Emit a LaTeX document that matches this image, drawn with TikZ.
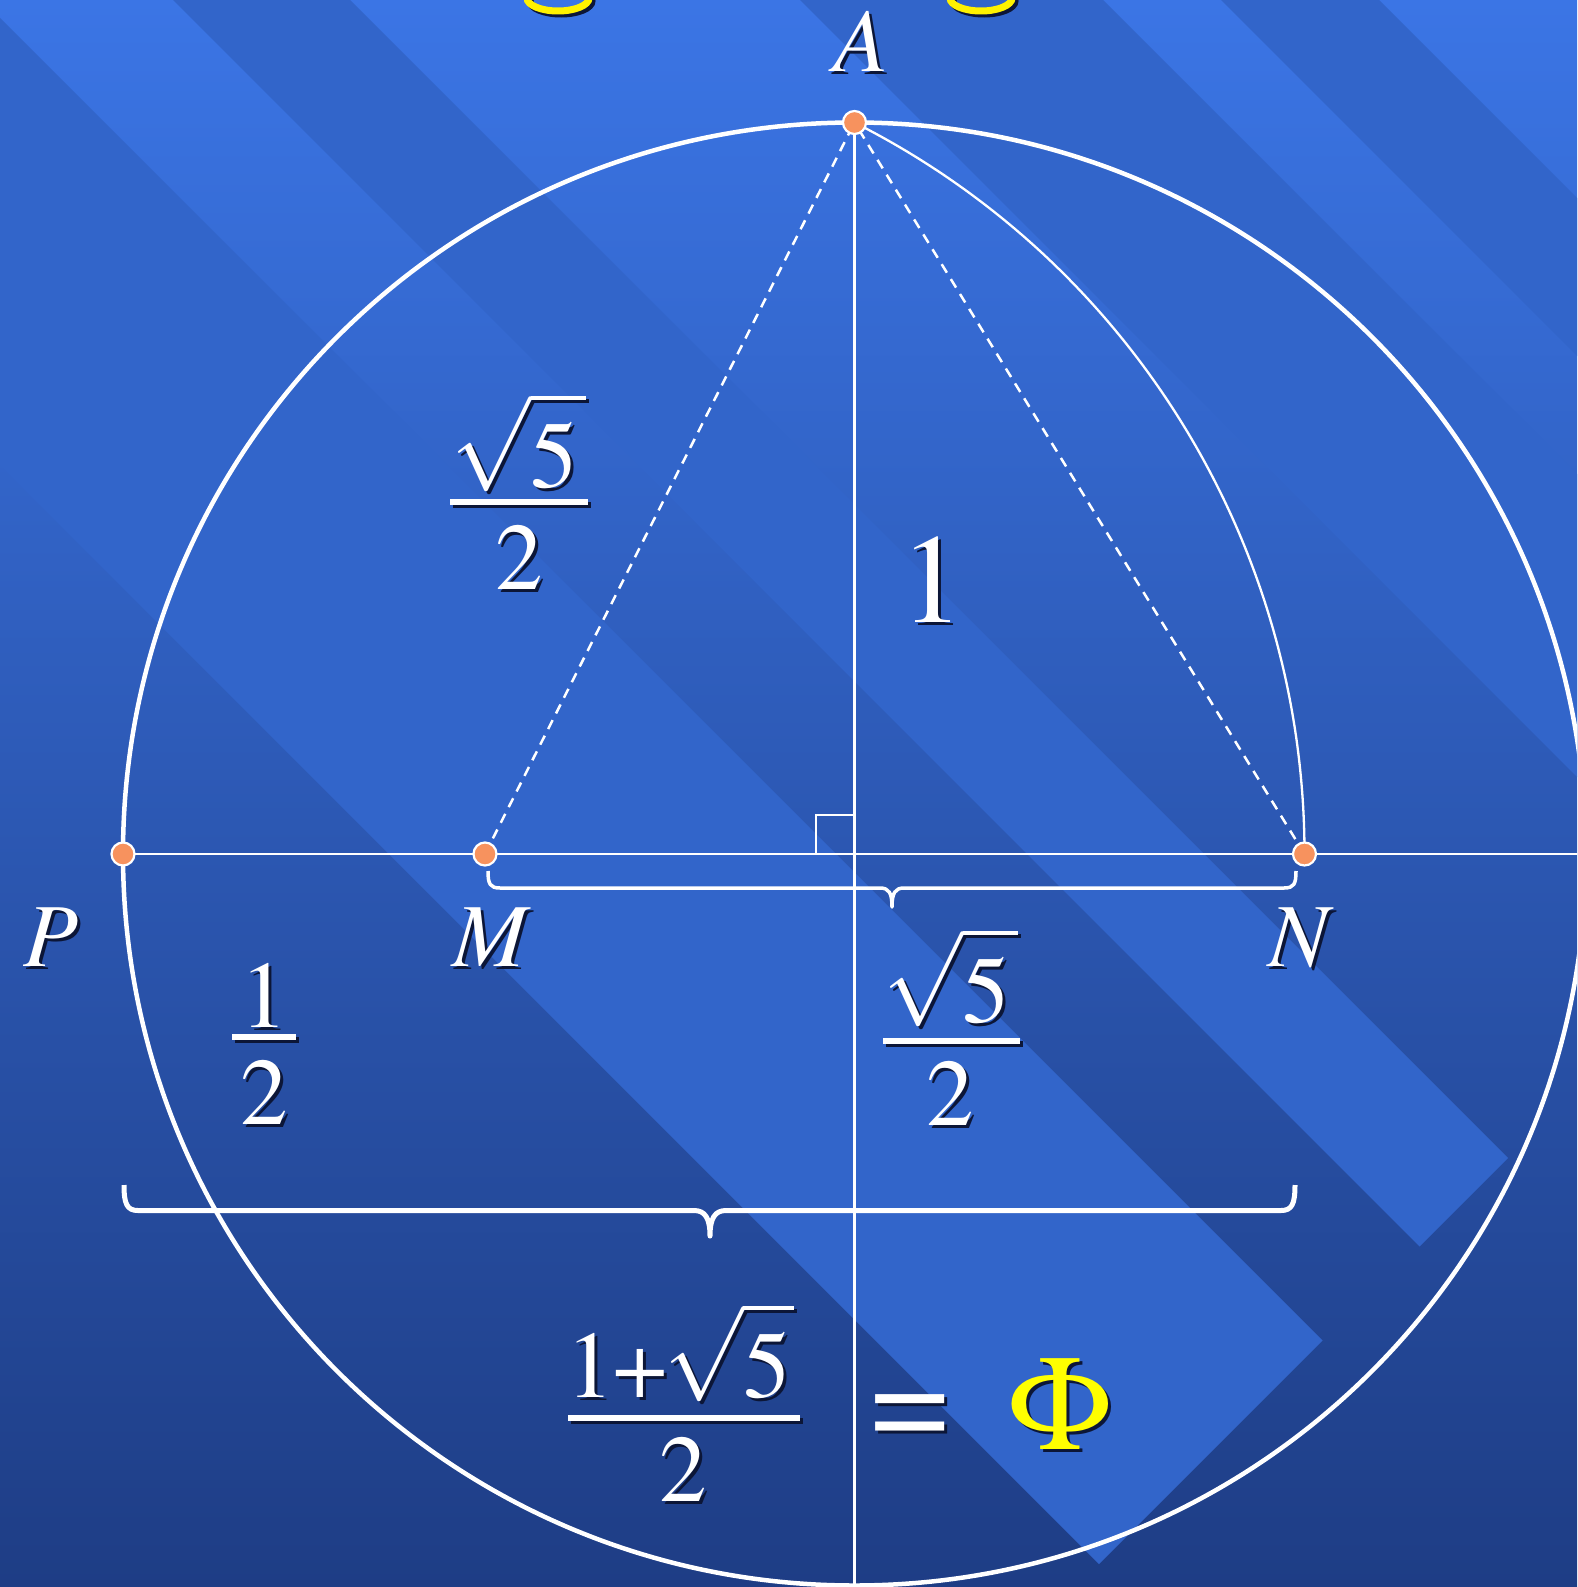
\documentclass[tikz,border=0pt]{standalone}
\usepackage{mathptmx}
\usepackage{tikz}
\pgfdeclarelayer{fg}
\pgfsetlayers{main,fg}
\definecolor{bgtop}{RGB}{59,117,229}
\definecolor{bgbot}{RGB}{30,61,133}
\definecolor{barc}{RGB}{50,101,202}
\definecolor{shadowc}{RGB}{12,22,55}
\definecolor{dotc}{RGB}{247,146,94}
\definecolor{phiyellow}{RGB}{255,255,0}
\newcommand\fs[1]{\fontsize{#1}{#1}\selectfont}
\newcommand\tm{\fontencoding{OT1}\fontfamily{ptm}\selectfont}
\newcommand\sh[2][white]{\leavevmode\rlap{\hspace{3pt}\raisebox{-3pt}{\textcolor{shadowc}{#2}}}\textcolor{#1}{#2}}
\newcommand\rfive[1][8pt]{\displaystyle\sqrt{\rule{0pt}{70pt}5\kern#1}}
\newcommand\fracbar[3]{%
  \fill[shadowc] ({#1+3},{#3}) rectangle ({#2+3},{#3+6});
  \fill[white] (#1,{#3-3}) rectangle (#2,{#3+3});}
\begin{document}
\begin{tikzpicture}[x=1pt,y=-1pt,
  thinline/.style={white, line width=2.3},
  dashline/.style={white, line width=2.5, dash pattern=on 10pt off 7.5pt},
  bracepath/.style={white, line join=round},
  dot/.style={circle, fill=dotc, draw=white, line width=2.2, minimum size=23pt, inner sep=0pt},
  txt/.style={anchor=base, inner sep=0pt, outer sep=0pt},
  lbl/.style={txt, font=\fs{90}},
  frc/.style={txt, font=\fs{95}}]
\useasboundingbox (0,0) rectangle (1577,1587);
\clip (0,0) rectangle (1577,1587);
% background
\shade[top color=bgtop, bottom color=bgbot] (0,0) rectangle (1577,1587);
\fill[barc] (-113.5,-286.5) -- (-25,-375) -- (1508,1158) -- (1419.5,1246.5) -- cycle;
\fill[barc] (-209,-191) -- (-432.5,32.5) -- (1099,1564) -- (1322.5,1340.5) -- cycle;
\fill[barc] (200,-600) -- (351.5,-751.5) -- (2551.5,1448.5) -- (2400,1600) -- cycle;
\fill[barc] (410.5,-810.5) -- (489.5,-889.5) -- (2689.5,1310.5) -- (2610.5,1389.5) -- cycle;
% title fragments
\draw[shadowc, line width=7] (561,1) ellipse [x radius=31, y radius=13];
\draw[yellow, line width=7] (558,-2) ellipse [x radius=31, y radius=13];
\draw[shadowc, line width=7] (984,1) ellipse [x radius=31, y radius=13];
\draw[yellow, line width=7] (981,-2) ellipse [x radius=31, y radius=13];
% geometry
\coordinate (O) at (854.5,854);
\coordinate (A) at (854.5,122.5);
\coordinate (P) at (123,854);
\coordinate (M) at (485,854);
\coordinate (N) at (1304.5,854);
\coordinate (E) at (1577,854);
\coordinate (B) at (854.5,1587);
\draw[white, line width=4.5] (O) circle [radius=731.5];
\draw[thinline] (P) -- (E);
\draw[thinline] (A) -- (B);
\draw[thinline] (N) arc [start angle=0, end angle=-63.19, radius=819.5];
\draw[dashline] (M) -- (A);
\draw[dashline] (N) -- (A);
\draw[white, line width=2] ([xshift=-39pt]O) -- ++(0,-39) -- ++(39,0);
% braces
\draw[bracepath, line width=3.5] (488,871) .. controls (488,884) and (490,888) .. (500,888)
  -- (880,888) .. controls (889,888) and (892,893) .. (892,907)
  .. controls (892,893) and (895,888) .. (904,888)
  -- (1284,888) .. controls (1294,888) and (1296,884) .. (1296,871);
\draw[bracepath, line width=5] (124,1185) .. controls (124,1204) and (127,1210.5) .. (138,1210.5)
  -- (694,1210.5) .. controls (705,1210.5) and (710,1218) .. (710,1236)
  .. controls (710,1218) and (715,1210.5) .. (726,1210.5)
  -- (1281,1210.5) .. controls (1292,1210.5) and (1295,1204) .. (1295,1185);
% fraction bars
\fracbar{450}{588}{502}
\fracbar{883}{1020}{1041}
\fracbar{232}{296}{1037}
\fracbar{568}{800}{1418}
\begin{pgfonlayer}{fg}
\node[dot] (dA) at (A) {};
\node[dot] (dP) at (P) {};
\node[dot] (dM) at (M) {};
\node[dot] (dN) at (N) {};
\node[lbl] (lA) at (861,71) {\sh{$A$}};
\node[lbl] (lP) at (51,966) {\sh{$P$}};
\node[lbl] (lM) at (492,966) {\sh{$M$}};
\node[lbl] (lN) at (1301.5,966) {\sh{$N$}};
\node[txt, font=\fs{127}] (one) at (932.5,622) {\sh{$1$}};
\node[frc] (f1n) at (519,487) {\sh{$\rfive$}};
\node[frc] (f1d) at (519,589) {\sh{$2$}};
\node[frc] (f2n) at (951,1022) {\sh{$\rfive$}};
\node[frc] (f2d) at (950,1125) {\sh{$2$}};
\node[frc] (f3n) at (264,1027) {\sh{$1$}};
\node[frc] (f3d) at (264,1124) {\sh{$2$}};
\node[frc] (f4n) at (680,1397) {\sh{$1\mbox{\tm +}\kern-3pt\rfive[3pt]$}};
\node[frc] (f4d) at (683,1501) {\sh{$2$}};
\node[txt, font=\fs{137}] (eq) at (910.5,1447) {\sh{{\tm =}}};
\node[txt, font=\fs{135}] (phi) at (1059.5,1449) {\sh[phiyellow]{$\Phi$}};
\end{pgfonlayer}
\end{tikzpicture}
\end{document}
